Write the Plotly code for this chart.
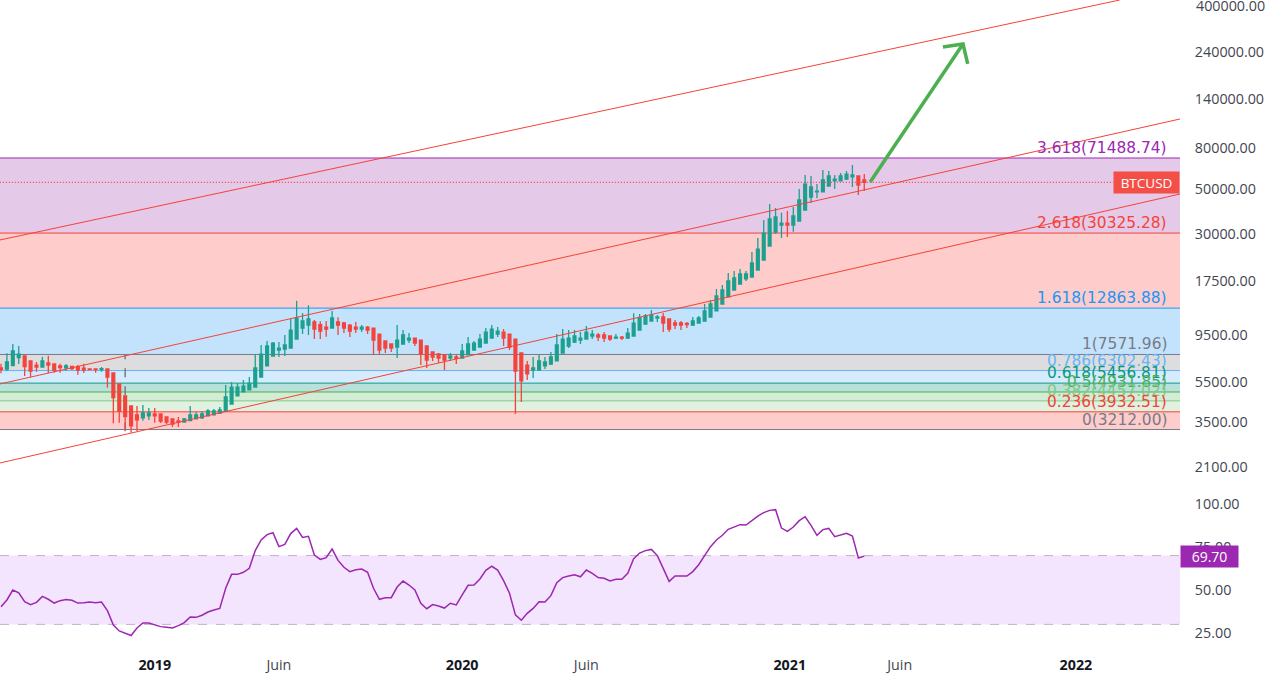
import math
import plotly.graph_objects as go

# Weekly candles, bar index is the x position
opens = [6490, 6415, 6660, 7300, 7440, 7030, 6710, 6560, 6870, 6790,
         6640, 6490, 6610, 6590, 6470, 6415, 6415, 6365, 6415, 6130,
         5405, 4715, 4205, 3795, 3665, 3750, 3835, 3835, 3705, 3625,
         3540, 3500, 3555, 3625, 3665, 3750, 3795, 3880, 3960, 4300,
         4715, 4935, 5050, 5220, 5855, 6640, 7440, 7970, 8060, 8150,
         9030, 10240, 10600, 10975, 10640, 10360, 10240, 10975, 10850, 10600,
         10360, 10125, 10360, 10240, 9565, 8830, 8535, 8245, 8535, 8930,
         9135, 8930, 8340, 7790, 7615, 7530, 7275, 7355, 7275, 7530,
         7970, 8245, 8630, 9135, 9565, 9785, 9565, 9030, 7700, 6710,
         6340, 6340, 6640, 6790, 7030, 7700, 8340, 8730, 8930, 9030,
         9350, 9460, 9460, 9350, 9135, 9240, 9140, 9350, 10010, 10710,
         11100, 11490, 11620, 11360, 10850, 10850, 10810, 10600, 10850, 11100,
         11620, 12450, 13480, 14620, 15820, 16940, 17950, 18340, 19880, 22290,
         26140, 30700, 33250, 34000, 33250, 34800, 39460, 45700, 48500, 48500,
         51900, 55000, 55000, 56200, 57600, 58200, 55600]
highs = [6815, 7670, 8535, 8340, 7460, 7050, 6950, 7380, 7470, 6810,
         6815, 6790, 6630, 6710, 6815, 6470, 6470, 6560, 6440, 6150,
         5425, 4730, 4220, 4205, 4250, 4110, 4110, 3850, 3720, 3640,
         3705, 3665, 4205, 3925, 3970, 4060, 4060, 4155, 5340, 5530,
         5465, 5660, 5855, 7590, 8440, 8830, 8730, 8730, 9460, 11450,
         14000, 12160, 13280, 11230, 11060, 11100, 12450, 11580, 10975, 10725,
         10975, 10600, 10480, 10260, 9585, 8850, 8550, 10600, 10010, 9675,
         9155, 8950, 8360, 7810, 7700, 7545, 7700, 7530, 8535, 9240,
         8830, 9565, 10240, 10600, 10360, 10125, 9585, 9050, 7720, 7030,
         7355, 7530, 7355, 7790, 9565, 10125, 10010, 10010, 9785, 10480,
         10010, 9675, 9785, 9370, 9565, 9350, 10240, 12140, 12030, 12030,
         12590, 11890, 12160, 11380, 11230, 11100, 10975, 11620, 11760, 13480,
         14110, 16000, 16750, 19200, 19650, 20110, 19650, 24400, 28660, 35200,
         42250, 40340, 38260, 39000, 40880, 50100, 58870, 58200, 53100, 62330,
         61600, 58870, 60300, 61600, 65990, 58220, 59500]
lows = [6110, 6270, 6640, 6790, 5920, 5830, 6220, 6540, 6130, 6150,
        6150, 6290, 6340, 6010, 6130, 6340, 6150, 6220, 5180, 3450,
        3470, 3220, 3100, 3150, 3555, 3585, 3470, 3460, 3420, 3305,
        3305, 3480, 3540, 3610, 3625, 3735, 3780, 3835, 3945, 4285,
        4700, 4900, 5030, 5200, 5835, 6620, 7410, 7355, 7440, 8120,
        9000, 9565, 9460, 9030, 9030, 9275, 10220, 9460, 9675, 9240,
        9675, 9785, 9565, 7585, 7585, 7700, 7790, 7275, 8520, 8630,
        8340, 6710, 6490, 7030, 6870, 6340, 7030, 6790, 7260, 7515,
        7950, 8230, 8610, 9120, 9240, 8340, 7970, 3835, 4400, 5660,
        5790, 6325, 6415, 6710, 7015, 7685, 8150, 8630, 8535, 9015,
        9030, 8830, 8730, 8830, 9030, 8930, 9030, 9330, 9990, 10690,
        11080, 10975, 9780, 9780, 10130, 10010, 10240, 10480, 10830, 11080,
        11600, 12430, 13460, 14600, 15800, 16920, 17530, 18320, 19860, 22270,
        26120, 30000, 28660, 28980, 30800, 34780, 39440, 42750, 45200, 48480,
        51880, 50100, 54980, 55600, 51340, 46840, 49000]
closes = [6390, 6950, 7880, 7590, 6590, 6270, 6560, 7030, 6710, 6340,
          6510, 6640, 6440, 6340, 6340, 6365, 6365, 6440, 5855, 4625,
          3955, 3720, 3345, 3585, 3880, 3880, 3750, 3540, 3500, 3420,
          3500, 3625, 3795, 3795, 3835, 3970, 3970, 4020, 4660, 5220,
          5220, 5280, 5445, 6490, 7590, 8340, 8630, 8150, 8440, 10010,
          11490, 11100, 11360, 10125, 9895, 10125, 11490, 10600, 10240, 9895,
          10125, 10360, 10010, 8930, 7970, 8150, 8150, 8930, 9460, 9135,
          8630, 7590, 7110, 7355, 7275, 7110, 7440, 7250, 7880, 8535,
          8630, 9030, 9785, 10125, 9895, 9135, 8245, 6270, 5595, 6060,
          6490, 7030, 6950, 7355, 8440, 9030, 9135, 9350, 9135, 9785,
          9565, 9240, 9135, 9030, 9240, 9135, 9670, 10840, 11530, 11760,
          11890, 11620, 10850, 10130, 10600, 10600, 10640, 11100, 11490, 12450,
          13480, 14770, 15820, 17530, 18160, 19000, 19000, 21540, 25260, 30300,
          35600, 36430, 34000, 33250, 36850, 44240, 53100, 51340, 49000, 55600,
          58200, 56200, 58200, 59500, 58870, 52510, 54170]
rsi_values = [40.3, 44.2, 50.0, 48.4, 43.2, 41.5, 42.8, 46.3, 44.6, 42.4,
              43.8, 44.4, 44.0, 42.4, 42.6, 43.0, 42.6, 43.0, 38.0, 29.6,
              26.2, 25.0, 23.5, 27.9, 30.8, 30.8, 29.8, 28.7, 28.3, 27.9,
              29.3, 31.0, 34.3, 34.1, 35.3, 37.2, 38.4, 39.3, 51.0, 59.1,
              59.1, 60.3, 62.6, 72.9, 79.1, 82.2, 83.3, 75.2, 76.5, 82.8,
              85.8, 80.6, 81.2, 70.3, 67.8, 68.8, 73.8, 67.2, 63.2, 60.7,
              61.8, 62.2, 60.3, 51.0, 44.6, 45.5, 45.5, 51.7, 55.2, 52.9,
              50.0, 42.3, 39.1, 41.5, 40.7, 39.5, 42.3, 41.3, 47.1, 52.7,
              52.9, 56.4, 61.4, 63.8, 61.6, 55.4, 48.1, 35.5, 32.4, 36.4,
              39.3, 43.2, 43.0, 46.7, 54.3, 57.2, 58.1, 58.9, 57.7, 61.6,
              59.7, 57.2, 56.8, 55.2, 56.2, 56.2, 59.7, 68.2, 71.5, 72.9,
              73.6, 70.0, 62.6, 55.0, 58.1, 58.1, 58.1, 60.7, 64.7, 70.0,
              75.2, 79.1, 81.8, 85.3, 86.6, 88.0, 87.8, 90.5, 93.0, 95.0,
              96.3, 96.7, 86.0, 84.1, 86.6, 90.3, 92.6, 87.6, 81.8, 85.1,
              85.8, 81.0, 82.2, 83.0, 81.4, 68.6, 69.7]
bars = list(range(len(closes)))

# Fibonacci levels, top to bottom
fib_names = ['3.618', '2.618', '1.618', '1', '0.786', '0.618', '0.5', '0.382', '0.236', '0']
fib_prices = [71488.74, 30325.28, 12863.88, 7571.96, 6302.43, 5456.81, 4931.85, 4457.02, 3932.51, 3212.00]
fib_line_colors = ['#9c27b0', '#f44336', '#2196f3', '#787b86', '#64b5f6',
                   '#089981', '#4caf50', '#81c784', '#f44336', '#787b86']
fib_fill_colors = ['#e5c9e9', '#fdcccb', '#c3e2fc', '#dddde0', '#d6ebfd',
                   '#b9e1dc', '#d3ecd4', '#e0f0e1', '#fdcccb']

# Trend channel drawn on the chart
top_x = [-0.2, 189.2]
top_y = [28010, 434900]
mid_x = [-0.2, 199.4]
mid_y = [5404, 111650]
low_x = [-0.2, 199.4]
low_y = [2191, 47370]

# Hand drawn arrow
arrow_x = [147.0, 162.7, None, 159.3, 162.7, 163.5]
arrow_y = [54360, 263000, None, 254200, 263000, 209400]

# Axis labels. The top one would be dropped by the axis near the page edge, so it is an annotation
top_price_tick = 400000
price_ticks = [240000, 140000, 80000, 50000, 30000, 17500, 9500, 5500, 3500, 2100]
rsi_ticks = [100, 75, 50, 25]
time_ticks = [26, 47, 78, 99, 133.4, 152, 181.8]
time_labels = ['2019', 'Juin', '2020', 'Juin', '2021', 'Juin', '2022']

x_range = [-0.169, 199.4]
green = '#1ca08f'
red = '#f4433c'
purple = '#9c27b0'
axis_font = dict(family='Open Sans', size=14.3, color='#434651')

fig = go.Figure()

fig.add_trace(go.Candlestick(
    x=bars, open=opens, high=highs, low=lows, close=closes,
    increasing=dict(line=dict(color=green, width=1.3), fillcolor=green),
    decreasing=dict(line=dict(color=red, width=1.3), fillcolor=red),
    whiskerwidth=0, xaxis='x', yaxis='y'))

# Channel lines
for xs, ys in [(top_x, top_y), (mid_x, mid_y), (low_x, low_y)]:
    fig.add_trace(go.Scatter(x=xs, y=ys, mode='lines', line=dict(color='#f44336', width=1),
                             xaxis='x', yaxis='y'))

# Last price dotted line
fig.add_trace(go.Scatter(x=[-0.2, 188.1], y=[closes[-1], closes[-1]], mode='lines',
                         line=dict(color='#f44336', width=1.2, dash='1px,2px'), xaxis='x', yaxis='y'))

fig.add_trace(go.Scatter(x=arrow_x, y=arrow_y, mode='lines', line=dict(color='#4caf50', width=3.5),
                         xaxis='x', yaxis='y'))

fig.add_trace(go.Scatter(x=bars, y=rsi_values, mode='lines', line=dict(color=purple, width=1.5),
                         xaxis='x', yaxis='y2'))

# Fib bands and lines
for i in range(len(fib_fill_colors)):
    fig.add_shape(type='rect', layer='below', xref='x', yref='y', x0=x_range[0], x1=x_range[1],
                  y0=fib_prices[i + 1], y1=fib_prices[i], fillcolor=fib_fill_colors[i], line_width=0)
for price, color in zip(fib_prices, fib_line_colors):
    fig.add_shape(type='line', layer='below', xref='x', yref='y', x0=x_range[0], x1=x_range[1],
                  y0=price, y1=price, line=dict(color=color, width=1))

# Vertical edge of the channel tool
fig.add_shape(type='line', layer='below', xref='x', yref='y', x0=21, x1=21, y0=3150, y1=7530,
              line=dict(color='#787b86', width=1.5, dash='dash'))

# RSI band
fig.add_shape(type='rect', layer='below', xref='x', yref='y2', x0=x_range[0], x1=x_range[1],
              y0=30, y1=70, fillcolor='#f3e5fd', line_width=0)
for level in [30, 70]:
    fig.add_shape(type='line', layer='below', xref='x', yref='y2', x0=x_range[0], x1=x_range[1],
                  y0=level, y1=level, line=dict(color='#c4b0c9', width=1, dash='dash'))

# Fib labels
for name, price, color in zip(fib_names, fib_prices, fib_line_colors):
    fig.add_annotation(xref='paper', yref='y', x=1168 / 1180, y=math.log10(price),
                       text=f'{name}({price:.2f})', showarrow=False, xanchor='right', yanchor='bottom',
                       borderpad=0, font=dict(family='DejaVu Sans', size=15.4, color=color))

# Price tags
fig.add_annotation(xref='paper', yref='y', x=1, y=math.log10(closes[-1]), text='BTCUSD',
                   showarrow=False, xanchor='right', yanchor='middle', width=63, height=19,
                   bgcolor='#f44f47', font=dict(family='Open Sans', size=13.5, color='white'))
fig.add_annotation(xref='paper', yref='y2', x=1, y=rsi_values[-1], text=f'{rsi_values[-1]:.2f}',
                   showarrow=False, xanchor='left', yanchor='middle', width=55, height=19,
                   bgcolor=purple, font=dict(family='Open Sans', size=14, color='white'))

fig.add_annotation(xref='paper', yref='y', x=1, y=math.log10(top_price_tick), xshift=14, yshift=2,
                   text=f'{top_price_tick:.2f}', showarrow=False, xanchor='left', yanchor='middle',
                   font=axis_font)

tick_text = [f'<b><span style="color:#131722">{t}</span></b>' if t.isdigit() else t for t in time_labels]

fig.update_layout(
    width=1276, height=688,
    margin=dict(l=0, r=96, t=0, b=33),
    paper_bgcolor='white', plot_bgcolor='white',
    showlegend=False,
    boxgap=0.32,
    xaxis=dict(range=x_range, anchor='y2', rangeslider=dict(visible=False), showgrid=False, zeroline=False,
               tickmode='array', tickvals=time_ticks, ticktext=tick_text, ticks='', tickfont=axis_font),
    yaxis=dict(type='log', domain=[0.2519, 1], range=[3.2066, 5.6384], side='right', anchor='x',
               showgrid=False, zeroline=False, tickmode='array', tickvals=price_ticks,
               ticktext=[f'{t:.2f}' for t in price_ticks], ticks='outside', ticklen=11,
               tickcolor='rgba(0,0,0,0)', tickfont=axis_font),
    yaxis2=dict(domain=[0, 0.2519], range=[12.2, 108.14], side='right', anchor='x',
                showgrid=False, zeroline=False, tickmode='array', tickvals=rsi_ticks,
                ticktext=[f'{t:.2f}' for t in rsi_ticks], ticks='outside', ticklen=11,
                tickcolor='rgba(0,0,0,0)', tickfont=axis_font),
)

fig.write_html("out.html", config=dict(displayModeBar=False),
               post_script="document.body.style.margin='0';")
